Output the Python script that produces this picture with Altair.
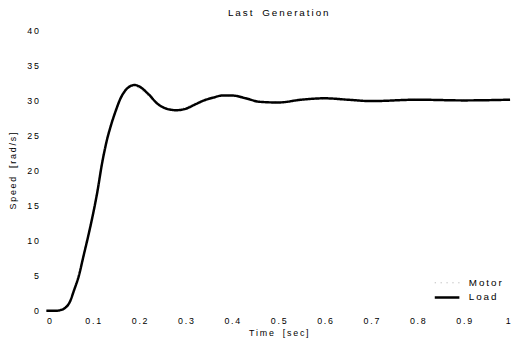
import altair as alt
import pandas as pd

t = [0, 0.02, 0.03, 0.04, 0.05, 0.06, 0.07, 0.08, 0.09, 0.1, 0.11, 0.12, 0.13, 0.14,
     0.15, 0.16, 0.17, 0.18, 0.19, 0.2, 0.22, 0.24, 0.26, 0.28, 0.3, 0.32, 0.34, 0.36,
     0.38, 0.4, 0.43, 0.46, 0.5, 0.55, 0.6, 0.65, 0.7, 0.8, 0.9, 1.0]
load = [0, 0, 0.1, 0.4, 1.2, 3.0, 5.0, 7.8, 10.6, 13.6, 17.0, 21.0, 24.2, 26.6, 28.6,
        30.3, 31.4, 32.0, 32.2, 32.0, 30.9, 29.5, 28.8, 28.6, 28.8, 29.4, 30.0, 30.4,
        30.7, 30.7, 30.3, 29.8, 29.7, 30.1, 30.3, 30.1, 29.9, 30.1, 30.0, 30.1]
motor = [0, 0, 0.1, 0.5, 1.3, 3.2, 5.3, 8.1, 11.0, 14.0, 17.5, 21.5, 24.6, 27.0, 28.9,
         30.5, 31.4, 31.9, 32.0, 31.7, 30.6, 29.3, 28.8, 28.7, 29.0, 29.6, 30.1, 30.5,
         30.7, 30.6, 30.2, 29.8, 29.8, 30.1, 30.2, 30.1, 29.9, 30.1, 30.0, 30.0]
series = ["Motor", "Load"]
x_ticks = [0, 0.1, 0.2, 0.3, 0.4, 0.5, 0.6, 0.7, 0.8, 0.9, 1]
y_ticks = [0, 5, 10, 15, 20, 25, 30, 35, 40]

df = pd.DataFrame(
    {"t": t * 2, "v": motor + load, "s": ["Motor"] * len(t) + ["Load"] * len(t)}
)

font = "Liberation Sans"
TS = "\u2009"


def spaced(s):
    return "\u2003".join(TS.join(list(w)) for w in s.split(" "))


spread = "join(split(datum.label, ''), '\u2009')"


def leg():
    return alt.Legend(title=None, orient="none", legendX=393, legendY=249,
                      symbolType="stroke", symbolSize=625,
                      labelFont=font, labelFontSize=10, labelOffset=8, labelColor="black",
                      labelExpr=spread, rowPadding=0, clipHeight=15)


chart = (
    alt.Chart(df)
    .mark_line(interpolate="monotone")
    .encode(
        x=alt.X("t:Q", scale=alt.Scale(domain=[0, 1], nice=False),
                axis=alt.Axis(title=spaced("Time [sec]"), values=x_ticks,
                              format="~g", labelExpr=spread, domain=False, ticks=False, grid=False,
                              labelPadding=6, titlePadding=3)),
        y=alt.Y("v:Q", scale=alt.Scale(domain=[0, 40], nice=False),
                axis=alt.Axis(title=spaced("Speed [rad/s]"), values=y_ticks,
                              labelExpr=spread, domain=False, ticks=False, grid=False,
                              labelPadding=8, titlePadding=10)),
        color=alt.Color("s:N", scale=alt.Scale(domain=series, range=["#aaaaaa", "#000000"]),
                        legend=leg()),
        strokeDash=alt.StrokeDash("s:N", scale=alt.Scale(domain=series, range=[[1, 5], [1, 0]]),
                                  legend=leg()),
        strokeWidth=alt.StrokeWidth("s:N", scale=alt.Scale(domain=series, range=[1, 2.5]),
                                    legend=leg()),
        order=alt.Order("s:N"),
    )
    .properties(
        width=471, height=285,
        title=alt.TitleParams(spaced("Last Generation"), font=font, fontSize=10,
                              fontWeight="normal", offset=8, color="black"),
        autosize=alt.AutoSizeParams(type="none"),
        padding={"left": 39, "top": 20, "right": 5, "bottom": 26},
    )
    .configure_view(stroke=None)
    .configure_axis(labelFont=font, labelFontSize=9, labelColor="black",
                    titleFont=font, titleFontSize=9, titleFontWeight="normal", titleColor="black")
)

chart.save("out.html", embed_options={"renderer": "svg", "actions": False})
